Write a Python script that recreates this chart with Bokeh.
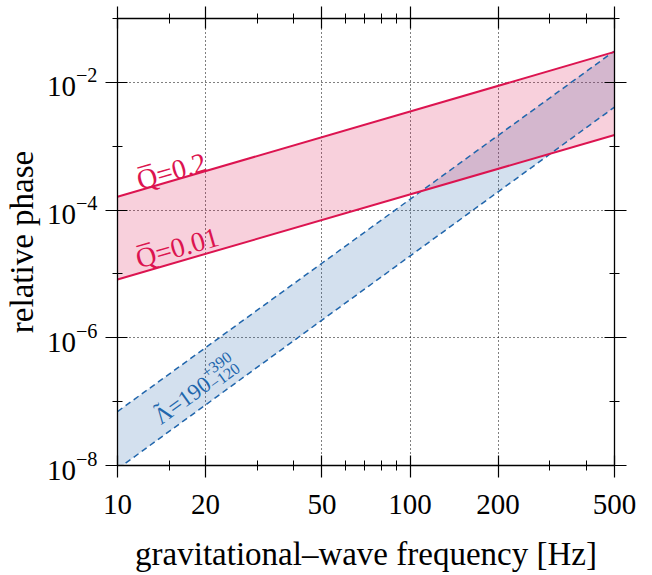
import math
from bokeh.plotting import figure
from bokeh.models import (FixedTicker, LogAxis, PrintfTickFormatter, Label,
                          CustomJSTickFormatter)
from bokeh.embed import file_html
from bokeh.resources import INLINE

# ---- data ----
freq = [10, 500]
phase_q_high = [1.62e-4, 3.0e-2]      # Q = 0.2
phase_q_low = [8.2e-6, 1.5e-3]        # Q = 0.01
phase_lam_high = [7.0e-8, 3.1e-2]     # Lambda upper
phase_lam_low = [8.8e-9, 4.1e-3]      # Lambda lower

x_major = [10, 20, 50, 100, 200, 500]
x_minor = [15, 30, 40, 60, 70, 80, 90, 300, 400]
y_major = [1e-8, 1e-6, 1e-4, 1e-2]
y_minor = [1e-7, 1e-5, 1e-3, 1e-1]

RED = "#DC1450"
BLUE = "#2166AC"
FONT = "Liberation Serif"

p = figure(width=641, height=574, x_axis_type="log", y_axis_type="log",
           x_range=(10, 500), y_range=(1e-8, 1.0001e-1),
           output_backend="svg", toolbar_location=None,
           min_border_left=117, min_border_right=27,
           min_border_top=18, min_border_bottom=108)
p.outline_line_color = None
p.background_fill_color = "white"

xt = FixedTicker(ticks=x_major, minor_ticks=x_minor)
yt = FixedTicker(ticks=y_major, minor_ticks=y_minor)
xg = FixedTicker(ticks=x_major)
yg = FixedTicker(ticks=y_major)

def style_axis(ax):
    ax.axis_line_color = "black"
    ax.axis_line_width = 1.3
    ax.major_tick_line_color = "black"
    ax.minor_tick_line_color = "black"
    ax.major_tick_line_width = 1.2
    ax.minor_tick_line_width = 1.0
    ax.major_tick_in = 10
    ax.major_tick_out = 12
    ax.minor_tick_in = 5
    ax.minor_tick_out = 5
    ax.major_label_text_font = FONT
    ax.major_label_text_color = "black"

p.xaxis.ticker = xt
p.yaxis.ticker = yt
p.xaxis.formatter = PrintfTickFormatter(format="%d")
for ax in (p.xaxis[0], p.yaxis[0]):
    style_axis(ax)
    ax.major_label_text_font_size = "29px"
    ax.axis_label_text_font = FONT
    ax.axis_label_text_font_size = "33px"
    ax.axis_label_text_font_style = "normal"
    ax.axis_label_text_color = "black"
p.xaxis.major_label_standoff = 17
p.yaxis.major_label_standoff = 8
p.xaxis.axis_label = "gravitational\u2013wave frequency [Hz]"
p.yaxis.axis_label = "relative phase"
p.xaxis.axis_label_standoff = 19
p.yaxis.axis_label_standoff = 4

blank = CustomJSTickFormatter(code="return ''")
top = LogAxis(ticker=xt, formatter=blank, major_label_standoff=0)
right = LogAxis(ticker=yt, formatter=blank, major_label_standoff=0)
style_axis(top)
style_axis(right)
p.add_layout(top, "above")
p.add_layout(right, "right")

p.xgrid.ticker = xg
p.ygrid.ticker = yg
for g in (p.xgrid[0], p.ygrid[0]):
    g.grid_line_color = "black"
    g.grid_line_alpha = 1.0
    g.grid_line_dash = "1 3"
    g.grid_line_width = 1.1

# bands
p.varea(x=freq, y1=phase_lam_low, y2=phase_lam_high, fill_color=BLUE, fill_alpha=0.2)
p.varea(x=freq, y1=phase_q_low, y2=phase_q_high, fill_color=RED, fill_alpha=0.2)
p.line(freq, phase_lam_high, line_color=BLUE, line_width=1.5, line_dash="6 4")
p.line(freq, phase_lam_low, line_color=BLUE, line_width=1.5, line_dash="6 4")
p.line(freq, phase_q_high, line_color=RED, line_width=2)
p.line(freq, phase_q_low, line_color=RED, line_width=2)

# annotations
a_q = math.radians(16)
p.add_layout(Label(x=11.7, y=2.67e-4, y_offset=2, text="Q\u0305=0.2", angle=a_q,
                   text_font=FONT, text_font_size="28px", text_color=RED,
                   text_baseline="alphabetic", text_align="left"))
p.add_layout(Label(x=11.6, y=1.63e-5, y_offset=1, text="Q\u0305=0.01", angle=a_q,
                   text_font=FONT, text_font_size="28px", text_color=RED,
                   text_baseline="alphabetic", text_align="left"))

a_l = math.radians(36)
ca, sa = math.cos(a_l), math.sin(a_l)
lx, ly = 13.6, 5.3e-8

def lam_label(txt, d, h, size):
    # d: shift along the text baseline, h: shift perpendicular to it (pixels)
    p.add_layout(Label(x=lx, y=ly, x_offset=d * ca - h * sa, y_offset=d * sa + h * ca,
                       text=txt, angle=a_l, text_font=FONT, text_font_size=size,
                       text_color=BLUE, text_baseline="alphabetic", text_align="left"))

lam_label("\u039B=190", 0, 0, "23px")
lam_label("\u02DC", 4, 5, "23px")
lam_label("+390", 64, 9, "16px")
lam_label("\u2212120", 64, -5, "16px")

open("out.html", "w").write(file_html(p, INLINE))
